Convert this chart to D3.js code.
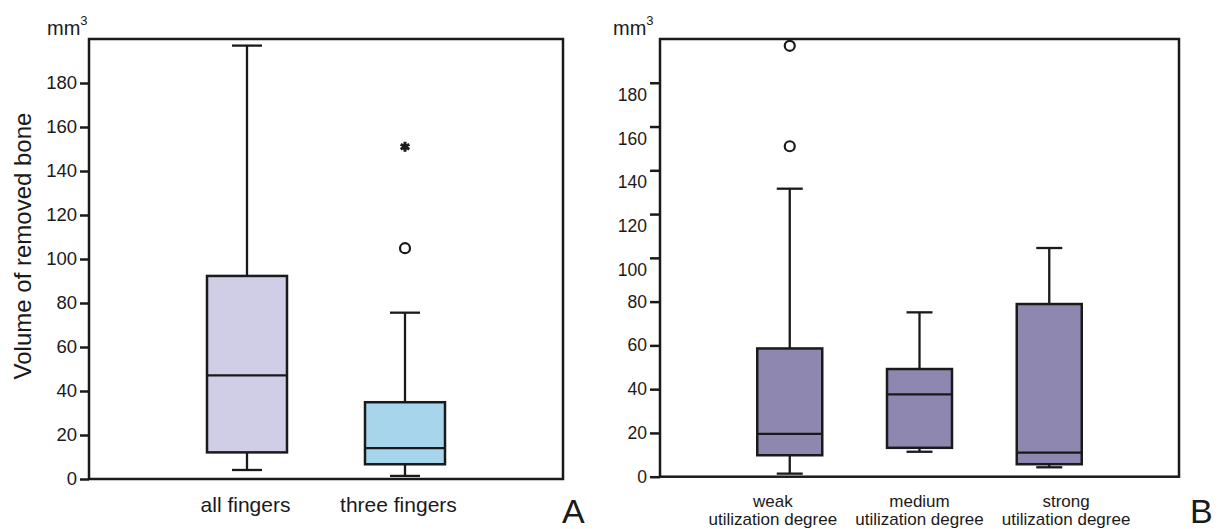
<!DOCTYPE html>
<html>
<head>
<meta charset="utf-8">
<script src="https://cdn.jsdelivr.net/npm/d3@7"></script>
<style>
body{margin:0;background:#fff}
svg text{font-family:"Liberation Sans",Arial,sans-serif;fill:#1a1a1a}
</style>
</head>
<body>
<svg id="chart" width="1220" height="529"></svg>
<script>
// panel A : finger groups
var catsA = ['all fingers','three fingers']
var minA = [4.1, 1.4]
var q1A = [12.1, 6.7]
var medA = [47.1, 14.0]
var q3A = [92.3, 34.9]
var maxA = [197, 75.6]
var outA = [[], [{v:104.9,t:'o'},{v:151,t:'*'}]]
var fillA = ['#d0cde6','#a7d6ec']

// panel B : utilization degree
var catsB = ['weak','medium','strong']
var minB = [1.4, 11.4, 4.3]
var q1B = [9.8, 13.2, 5.7]
var medB = [19.6, 37.6, 11.0]
var q3B = [58.6, 49.2, 78.9]
var maxB = [131.6, 75.1, 104.5]
var outB = [[{v:151,t:'o'},{v:196.9,t:'o'}], [], []]

var yTicks = d3.range(0,200,20)

var svg = d3.select('#chart')

function drawPanel(o){
	var g = svg.append('g').attr('id',o.id)
	var y = d3.scaleLinear().domain([0,200]).range([o.bottom,o.top])
	var x = d3.scalePoint().domain(o.cats).range([o.left,o.right]).padding(1)
	var xl = d3.scalePoint().domain(o.cats).range([o.left,o.right]).padding(o.labelPad)

	// y axis
	var ax = g.append('g').attr('transform',`translate(${o.left},0)`)
		.call(d3.axisLeft(y).tickValues(yTicks).tickSize(o.tickLen).tickPadding(3).tickFormat(d3.format('d')))
	ax.select('.domain').remove()
	ax.selectAll('.tick line').attr('stroke','#1a1a1a').attr('stroke-width',2.5)
	ax.selectAll('.tick text').style('font-size',o.tickFont+'px')
		.attr('dy',d=>o.shiftUpper&&d>=100?'1.0em':'0.32em')

	// boxes
	o.cats.forEach((c,i)=>{
		var cx = x(c)
		var b = g.append('g').attr('class','box')
		b.append('line').attr('x1',cx).attr('x2',cx).attr('y1',y(o.max[i])).attr('y2',y(o.q3[i]))
		b.append('line').attr('x1',cx).attr('x2',cx).attr('y1',y(o.q1[i])).attr('y2',y(o.min[i]))
		b.append('line').attr('x1',cx-o.cap/2).attr('x2',cx+o.cap/2).attr('y1',y(o.max[i])).attr('y2',y(o.max[i]))
		b.append('line').attr('x1',cx-o.cap/2).attr('x2',cx+o.cap/2).attr('y1',y(o.min[i])).attr('y2',y(o.min[i]))
		b.append('rect').attr('x',cx-o.boxW/2).attr('width',o.boxW)
			.attr('y',y(o.q3[i])).attr('height',y(o.q1[i])-y(o.q3[i]))
			.attr('fill',o.fill[i]).attr('stroke','#1a1a1a').attr('stroke-width',2.5)
		b.append('line').attr('x1',cx-o.boxW/2).attr('x2',cx+o.boxW/2).attr('y1',y(o.med[i])).attr('y2',y(o.med[i]))
		b.selectAll('line').attr('stroke','#1a1a1a').attr('stroke-width',2.3)

		o.out[i].forEach(p=>{
			if (p.t=='o')
				b.append('circle').attr('cx',cx).attr('cy',y(p.v)).attr('r',5)
					.attr('fill','none').attr('stroke','#1a1a1a').attr('stroke-width',2.2)
			else
				b.append('path').attr('d',d3.symbol(d3.symbolAsterisk,70)())
					.attr('transform',`translate(${cx},${y(p.v)})`)
					.attr('stroke','#1a1a1a').attr('stroke-width',3)
		})

		// category label
		var lab = g.append('text').attr('text-anchor','middle')
			.style('font-size',o.catFont+'px')
		o.catLines(c).forEach((t,k)=>{
			lab.append('tspan').attr('x',xl(c)+o.labelDx).attr('y',o.catY+k*o.catFont*1.08).text(t)
		})
	})

	// frame
	g.append('rect').attr('x',o.left).attr('y',o.top)
		.attr('width',o.right-o.left).attr('height',o.bottom-o.top)
		.attr('fill','none').attr('stroke','#1a1a1a').attr('stroke-width',2.5)

	// unit
	var u = g.append('text').attr('x',o.unitX).attr('y',35).style('font-size','20px')
	u.append('tspan').text('mm')
	u.append('tspan').attr('dy',-10).style('font-size','13px').text('3')

	// panel letter
	g.append('text').attr('x',o.letterX).attr('y',523).style('font-size','34px').text(o.letter)
}

drawPanel({
	id:'panelA', cats:catsA, min:minA, q1:q1A, med:medA, q3:q3A, max:maxA, out:outA, fill:fillA,
	left:89, right:563, top:39, bottom:479, tickLen:9, tickFont:18.5, shiftUpper:false,
	boxW:80, cap:30, labelPad:1.05, labelDx:-4, catFont:21, catY:512,
	catLines:c=>[c], unitX:47, letter:'A', letterX:562
})

drawPanel({
	id:'panelB', cats:catsB, min:minB, q1:q1B, med:medB, q3:q3B, max:maxB, out:outB, fill:catsB.map(()=>'#8e87b0'),
	left:660, right:1179, top:39, bottom:476.7, tickLen:10, tickFont:17.5, shiftUpper:true,
	boxW:65, cap:26, labelPad:0.77, labelDx:0, catFont:17, catY:507,
	catLines:c=>[c,'utilization degree'], unitX:613, letter:'B', letterX:1190
})

// y axis title
svg.append('text').attr('transform','translate(31,246) rotate(-90)')
	.attr('text-anchor','middle').style('font-size','24px').text('Volume of removed bone')
</script>
</body>
</html>
